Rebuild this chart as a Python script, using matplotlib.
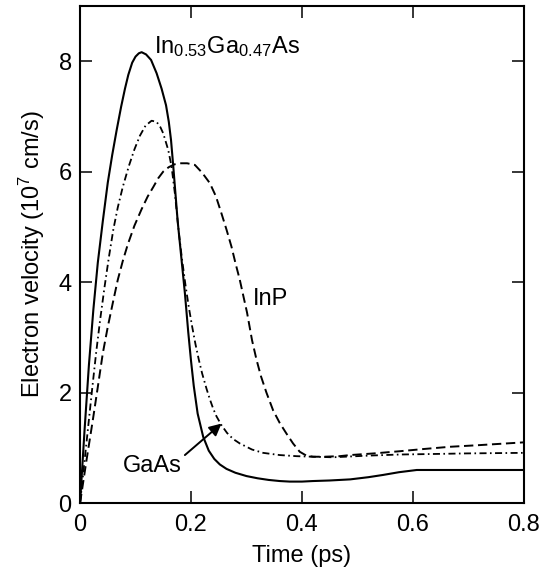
import matplotlib
matplotlib.use("Agg")
import matplotlib.pyplot as plt

plt.rcParams['font.family'] = ['Liberation Sans', 'DejaVu Sans']
plt.rcParams['mathtext.fontset'] = 'custom'
plt.rcParams['mathtext.rm'] = 'Liberation Sans'
plt.rcParams['mathtext.it'] = 'Liberation Sans'
plt.rcParams['mathtext.bf'] = 'Liberation Sans'

# In0.53Ga0.47As (solid)
t_ingaas = [0, 0.008, 0.016, 0.024, 0.032, 0.041, 0.050, 0.058, 0.066, 0.074,
            0.081, 0.087, 0.094, 0.100, 0.106, 0.111, 0.119, 0.128, 0.138, 0.147,
            0.155, 0.160, 0.164, 0.168, 0.172, 0.176, 0.182, 0.189, 0.195, 0.200,
            0.205, 0.212, 0.222, 0.232, 0.242, 0.252, 0.264, 0.280, 0.300, 0.320,
            0.340, 0.360, 0.378, 0.400, 0.420, 0.450, 0.487, 0.520, 0.546, 0.575,
            0.607, 0.700, 0.800]
v_ingaas = [0, 1.3, 2.5, 3.5, 4.35, 5.1, 5.8, 6.3, 6.75, 7.17,
            7.5, 7.75, 7.97, 8.08, 8.14, 8.16, 8.12, 8.02, 7.78, 7.5,
            7.2, 6.9, 6.57, 6.1, 5.6, 5.1, 4.5, 3.8, 3.1, 2.58,
            2.12, 1.62, 1.2, 0.95, 0.8, 0.7, 0.62, 0.55, 0.49, 0.45,
            0.42, 0.40, 0.39, 0.39, 0.40, 0.41, 0.43, 0.47, 0.51, 0.56,
            0.60, 0.60, 0.60]

# GaAs (dash-dot)
t_gaas = [0, 0.014, 0.022, 0.029, 0.036, 0.044, 0.052, 0.060, 0.068, 0.077,
          0.088, 0.098, 0.108, 0.118, 0.129, 0.138, 0.145, 0.150, 0.159, 0.165,
          0.171, 0.174, 0.178, 0.184, 0.190, 0.196, 0.202, 0.208, 0.214, 0.220,
          0.228, 0.234, 0.240, 0.246, 0.255, 0.265, 0.276, 0.288, 0.310, 0.330,
          0.360, 0.390, 0.420, 0.456, 0.520, 0.577, 0.640, 0.697, 0.800]
v_gaas = [0, 1.32, 2.08, 2.72, 3.3, 3.9, 4.45, 4.95, 5.35, 5.72,
          6.1, 6.4, 6.65, 6.83, 6.92, 6.9, 6.8, 6.69, 6.39, 6.09,
          5.6, 5.3, 4.9, 4.4, 3.95, 3.55, 3.2, 2.88, 2.6, 2.35,
          2.07, 1.88, 1.71, 1.57, 1.41, 1.27, 1.16, 1.08, 0.97, 0.91,
          0.87, 0.85, 0.84, 0.83, 0.86, 0.88, 0.89, 0.90, 0.91]

# InP (dashed)
t_inp = [0, 0.012, 0.023, 0.032, 0.041, 0.050, 0.059, 0.068, 0.077, 0.086,
         0.098, 0.111, 0.122, 0.132, 0.141, 0.150, 0.160, 0.170, 0.180, 0.193,
         0.207, 0.220, 0.234, 0.245, 0.255, 0.264, 0.273, 0.280, 0.288, 0.295,
         0.301, 0.310, 0.318, 0.326, 0.336, 0.348, 0.360, 0.372, 0.384, 0.396,
         0.408, 0.420, 0.440, 0.468, 0.487, 0.530, 0.577, 0.620, 0.667, 0.720,
         0.784, 0.800]
v_inp = [0, 0.8, 1.5, 2.1, 2.71, 3.19, 3.62, 4.04, 4.38, 4.68,
         5.02, 5.32, 5.55, 5.72, 5.88, 6.0, 6.08, 6.13, 6.15, 6.15,
         6.12, 5.98, 5.79, 5.55, 5.24, 4.95, 4.64, 4.35, 4.04, 3.72,
         3.45, 2.95, 2.6, 2.3, 2.0, 1.68, 1.45, 1.26, 1.08, 0.93,
         0.86, 0.84, 0.84, 0.85, 0.87, 0.90, 0.94, 0.98, 1.02, 1.05,
         1.09, 1.10]

xticks = [0, 0.2, 0.4, 0.6, 0.8]
xticklabels = ['0', '0.2', '0.4', '0.6', '0.8']
yticks = [0, 2, 4, 6, 8]

fig = plt.figure(figsize=(5.52, 5.77), dpi=100)
ax = fig.add_axes([0.145, 0.128, 0.804, 0.862])

ax.plot(t_ingaas, v_ingaas, color='black', lw=1.5, linestyle='-')
ax.plot(t_gaas, v_gaas, color='black', lw=1.3, linestyle=(0, (3.9, 1.9, 0.9, 1.9)))
ax.plot(t_inp, v_inp, color='black', lw=1.4, linestyle=(0, (4.8, 2.4)))

ax.text(0.133, 8.14, r'In$_{0.53}$Ga$_{0.47}$As', fontsize=17, va='baseline', ha='left')
ax.text(0.312, 3.58, 'InP', fontsize=17, va='baseline', ha='left')
ax.text(0.0775, 0.57, 'GaAs', fontsize=17, va='baseline', ha='left')
ax.annotate('', xy=(0.255, 1.44), xytext=(0.189, 0.87),
            arrowprops=dict(arrowstyle='-|>', color='black', lw=1.4,
                            mutation_scale=18, shrinkA=0, shrinkB=0))

ax.set_xlim(0, 0.8)
ax.set_ylim(0, 9)
ax.set_xticks(xticks)
ax.set_xticklabels(xticklabels)
ax.set_yticks(yticks)
ax.tick_params(direction='in', length=8.5, width=1.1, labelsize=17,
               top=True, right=True)
ax.tick_params(axis='x', pad=8)
ax.tick_params(axis='y', pad=6)
for s in ax.spines.values():
    s.set_linewidth(1.5)

ax.set_xlabel('Time (ps)', fontsize=17, labelpad=6)
ax.set_ylabel(r'Electron velocity (10$^7$ cm/s)', fontsize=17, labelpad=8)

fig.savefig('out.png', dpi=100)
